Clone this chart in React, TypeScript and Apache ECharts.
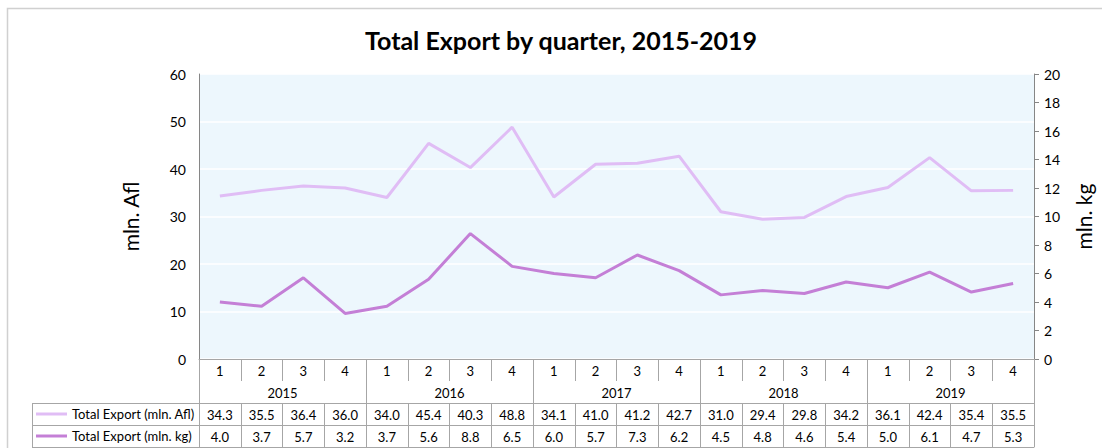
import React, { useEffect, useRef } from "react";
import * as echarts from "echarts";

const years = ["2015", "2016", "2017", "2018", "2019"];
const quarters = ["1", "2", "3", "4"];
const exportAfl = [34.3, 35.5, 36.4, 36.0, 34.0, 45.4, 40.3, 48.8, 34.1, 41.0, 41.2, 42.7, 31.0, 29.4, 29.8, 34.2, 36.1, 42.4, 35.4, 35.5];
const exportKg = [4.0, 3.7, 5.7, 3.2, 3.7, 5.6, 8.8, 6.5, 6.0, 5.7, 7.3, 6.2, 4.5, 4.8, 4.6, 5.4, 5.0, 6.1, 4.7, 5.3];
const seriesNames = ["Total Export (mln. Afl)", "Total Export (mln. kg)"];
const title = "Total Export by quarter, 2015-2019";

const FONT = "Lato";
const BORDER = "#a6a6a6";

export default function App() {
  const ref = useRef<HTMLDivElement>(null);
  useEffect(() => {
    document.body.style.margin = "0";
    if (!ref.current) return;
    const chart = echarts.init(ref.current, undefined, { renderer: "svg" });
    const quarterLabels: string[] = [];
    years.forEach(() => quarters.forEach((q) => quarterLabels.push(q)));

    const tableAxis = (data: string[], offset: number, showLabel: boolean, showTick: boolean) => ({
      type: "category",
      position: "bottom",
      gridIndex: 0,
      offset,
      data,
      boundaryGap: true,
      axisLine: { show: true, lineStyle: { color: BORDER, width: 1 } },
      axisTick: { show: showTick, length: 22, interval: 0, lineStyle: { color: BORDER } },
      axisLabel: { show: showLabel, interval: 0, margin: 5, fontSize: 13, color: "#000", fontFamily: FONT },
      splitLine: { show: false },
    });

    const legendRow = (name: string, top: number) => ({
      orient: "horizontal",
      left: 36,
      top,
      padding: 0,
      itemWidth: 31,
      itemHeight: 3,
      itemGap: 0,
      icon: "rect",
      data: [name],
      textStyle: { fontSize: 13, color: "#000", fontFamily: FONT, lineHeight: 14 },
      selectedMode: false,
    });

    chart.setOption({
      animation: false,
      textStyle: { fontFamily: FONT },
      graphic: [
        {
          type: "rect",
          shape: { x: 7.5, y: 8.5, width: 1200, height: 600 },
          style: { fill: "none", stroke: "#d0d0d0", lineWidth: 1.5 },
          silent: true,
        },
        {
          type: "text",
          x: 561,
          y: 40,
          style: {
            text: title,
            fontFamily: FONT,
            fontWeight: "bold",
            fontSize: 25,
            fill: "#000",
            textAlign: "center",
            textVerticalAlign: "middle",
          },
        },
        { type: "line", shape: { x1: 32, y1: 403.5, x2: 199, y2: 403.5 }, style: { stroke: BORDER, lineWidth: 1 } },
        { type: "line", shape: { x1: 32, y1: 425.5, x2: 199, y2: 425.5 }, style: { stroke: BORDER, lineWidth: 1 } },
        { type: "line", shape: { x1: 32, y1: 447.5, x2: 199, y2: 447.5 }, style: { stroke: BORDER, lineWidth: 1 } },
        { type: "line", shape: { x1: 32.5, y1: 403, x2: 32.5, y2: 448 }, style: { stroke: BORDER, lineWidth: 1 } },
      ],
      legend: [legendRow(seriesNames[0], 407), legendRow(seriesNames[1], 429)],
      grid: {
        left: 199,
        right: 67,
        top: 74,
        bottom: 89,
        show: true,
        backgroundColor: "#edf7fd",
        borderWidth: 0,
      },
      xAxis: [
        tableAxis(quarterLabels, 0, true, true),
        {
          type: "category",
          position: "bottom",
          offset: 0,
          data: years,
          boundaryGap: true,
          axisLine: { show: false },
          axisTick: { show: true, length: 44, interval: 0, lineStyle: { color: BORDER } },
          axisLabel: { interval: 0, margin: 27, fontSize: 13, color: "#000", fontFamily: FONT },
          splitLine: { show: false },
        },
        tableAxis(exportAfl.map((v) => v.toFixed(1)), 44, true, true),
        tableAxis(exportKg.map((v) => v.toFixed(1)), 66, true, true),
        tableAxis(quarterLabels, 88, false, false),
      ],
      yAxis: [
        {
          type: "value",
          min: 0,
          max: 60,
          interval: 10,
          name: "mln. Afl",
          nameLocation: "middle",
          nameGap: 58,
          nameTextStyle: { fontSize: 21, color: "#000", fontFamily: FONT },
          axisLine: { show: true, lineStyle: { color: "#868686" } },
          axisTick: { show: false },
          axisLabel: { fontSize: 14, color: "#000", margin: 13, fontFamily: FONT },
          splitLine: { show: true, lineStyle: { color: "#ffffff", width: 1.5 } },
        },
        {
          type: "value",
          min: 0,
          max: 20,
          interval: 2,
          position: "right",
          name: "mln. kg",
          nameLocation: "middle",
          nameGap: 39,
          nameTextStyle: { fontSize: 21, color: "#000", fontFamily: FONT },
          axisLine: { show: true, lineStyle: { color: "#868686" } },
          axisTick: { show: true, length: 5, lineStyle: { color: "#868686" } },
          axisLabel: { fontSize: 14, color: "#000", margin: 10, fontFamily: FONT },
          splitLine: { show: false },
        },
      ],
      series: [
        {
          name: seriesNames[0],
          type: "line",
          xAxisIndex: 0,
          yAxisIndex: 0,
          data: exportAfl,
          symbol: "none",
          lineStyle: { width: 3, color: "#e0bdf5" },
          itemStyle: { color: "#e0bdf5" },
        },
        {
          name: seriesNames[1],
          type: "line",
          xAxisIndex: 0,
          yAxisIndex: 1,
          data: exportKg,
          symbol: "none",
          lineStyle: { width: 3, color: "#c47fd6" },
          itemStyle: { color: "#c47fd6" },
        },
      ],
    });
    return () => chart.dispose();
  }, []);
  return <div ref={ref} style={{ width: 1102, height: 448 }} />;
}
